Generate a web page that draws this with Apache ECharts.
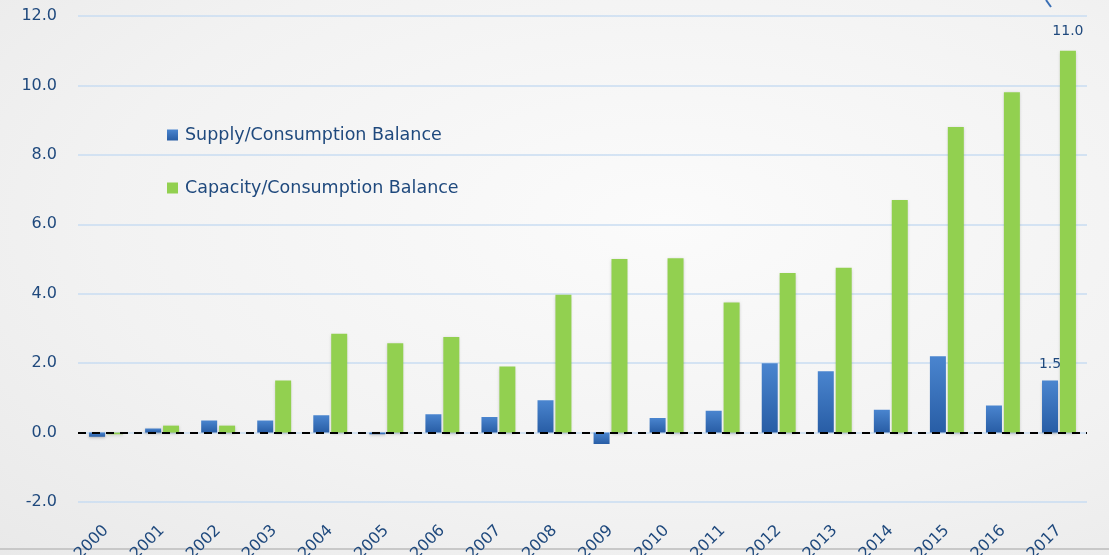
<!DOCTYPE html>
<html>
<head>
<meta charset="utf-8">
<script src="https://cdn.jsdelivr.net/npm/echarts@6/dist/echarts.min.js"></script>
<style>
  html, body { margin: 0; padding: 0; }
  #chart {
    width: 1109px;
    height: 555px;
    background: radial-gradient(ellipse at 60% 40%, #fbfbfb 0%, #f2f2f2 60%, #e9e9e9 100%);
  }
</style>
</head>
<body>
<div id="chart"></div>
<script>
// 年份
var years = ['2000', '2001', '2002', '2003', '2004', '2005', '2006', '2007', '2008',
  '2009', '2010', '2011', '2012', '2013', '2014', '2015', '2016', '2017']
var supplyBalance = [-0.12, 0.12, 0.35, 0.35, 0.5, -0.05, 0.53, 0.45, 0.93,
  -0.33, 0.42, 0.63, 2.0, 1.77, 0.66, 2.2, 0.78, 1.5]
var capacityBalance = [-0.05, 0.2, 0.2, 1.5, 2.85, 2.57, 2.75, 1.9, 3.97,
  5.0, 5.02, 3.75, 4.6, 4.75, 6.7, 8.8, 9.8, 11.0]
var yTicks = { min: -2, max: 12, interval: 2 }

var textColor = '#1f497d'
var font = 'DejaVu Sans'

var myChart = echarts.init(document.getElementById('chart'))

// 只给最后一年显示数值标签
function lastLabel(arr) {
  return arr.map(function (v, i) {
    if (i === arr.length - 1) {
      return { value: v, label: { show: true } }
    }
    return v
  })
}

myChart.setOption({
  backgroundColor: 'transparent',
  grid: {
    left: 78,
    right: 22,
    top: 16,
    bottom: 53,
    outerBoundsMode: 'none' // 不让标签挤压绘图区
  },
  legend: {
    orient: 'vertical',
    left: 162,
    top: 121,
    itemGap: 35,
    itemWidth: 11,
    itemHeight: 11,
    icon: 'rect',
    textStyle: { color: textColor, fontSize: 17.5, fontFamily: font, padding: [0, 0, 0, 2] }
  },
  xAxis: {
    type: 'category',
    data: years,
    axisLine: { show: false },
    axisTick: { show: false },
    axisLabel: {
      rotate: 45,
      color: textColor,
      fontSize: 16,
      fontFamily: font,
      margin: 26
    }
  },
  yAxis: {
    type: 'value',
    min: yTicks.min,
    max: yTicks.max,
    interval: yTicks.interval,
    axisLine: { show: false },
    axisTick: { show: false },
    axisLabel: {
      color: textColor,
      fontSize: 16,
      fontFamily: font,
      margin: 21,
      formatter: function (v) { return v.toFixed(1) }
    },
    splitLine: { lineStyle: { color: '#c9dcf2', width: 1.5 } }
  },
  series: [
    {
      name: 'Supply/Consumption Balance',
      type: 'bar',
      barWidth: 16,
      barGap: '12%',
      data: lastLabel(supplyBalance),
      itemStyle: {
        color: new echarts.graphic.LinearGradient(0, 0, 0, 1, [
          { offset: 0, color: '#4a85cf' },
          { offset: 1, color: '#285da5' }
        ]),
        shadowColor: 'rgba(0,0,0,0.25)',
        shadowBlur: 3,
        shadowOffsetY: 1
      },
      label: {
        position: 'top',
        color: textColor,
        fontSize: 14,
        fontFamily: font,
        distance: 9,
        formatter: function (p) { return p.value.toFixed(1) }
      },
      markLine: {
        silent: true,
        symbol: 'none',
        label: { show: false },
        lineStyle: { color: '#000', type: [8, 6], width: 2 },
        data: [{ yAxis: 0 }]
      }
    },
    {
      name: 'Capacity/Consumption Balance',
      type: 'bar',
      barWidth: 16,
      data: lastLabel(capacityBalance),
      itemStyle: {
        color: '#92d050',
        shadowColor: 'rgba(0,0,0,0.2)',
        shadowBlur: 3,
        shadowOffsetY: 1
      },
      label: {
        position: 'top',
        color: textColor,
        fontSize: 14,
        fontFamily: font,
        distance: 12,
        formatter: function (p) { return p.value.toFixed(1) }
      }
    }
  ],
  graphic: [
    {
      type: 'line',
      shape: { x1: 1046, y1: 0, x2: 1051, y2: 7 },
      style: { stroke: '#3a6fb5', lineWidth: 2 }
    },
    {
      type: 'rect',
      shape: { x: 0, y: 548, width: 1109, height: 2 },
      style: { fill: '#c8c8c8' }
    }
  ]
})

window.onresize = function () {
  myChart.resize()
}
</script>
</body>
</html>
